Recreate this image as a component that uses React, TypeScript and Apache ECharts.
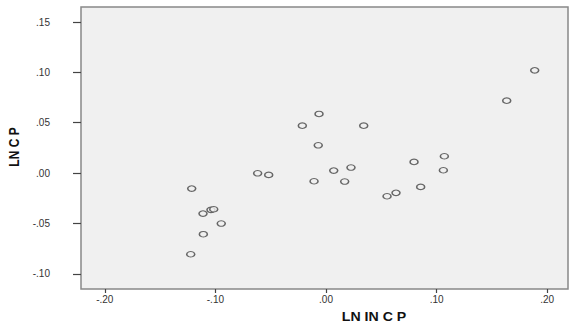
import React, { useEffect, useRef } from "react";
import * as echarts from "echarts";

const xValues = [
  -0.1214, -0.0618, -0.0518, -0.1112, -0.104, -0.1015, -0.0947, -0.1109, -0.1223,
  -0.0063, -0.0214, 0.0341, -0.007, 0.007, 0.0226, -0.0108, 0.0169, 0.0796,
  0.107, 0.1061, 0.0856, 0.0633, 0.0552, 0.1887, 0.1634,
];
const yValues = [
  -0.0154, -0.0002, -0.0018, -0.0402, -0.0365, -0.0359, -0.0501, -0.0607, -0.0806,
  0.0587, 0.0471, 0.0471, 0.0276, 0.0025, 0.0055, -0.0081, -0.0084, 0.0111,
  0.0167, 0.0028, -0.0137, -0.0196, -0.023, 0.102, 0.0719,
];
const xTicks = [-0.2, -0.1, 0, 0.1, 0.2];
const yTicks = [-0.1, -0.05, 0, 0.05, 0.1, 0.15];
const xTitle = "LN IN C P";
const yTitle = "LN C P";

const fmt = (v: number) => {
  const s = Math.abs(v).toFixed(2).replace(/^0/, "");
  return (v < -1e-9 ? "-" : "") + s;
};

const FONT = "'Liberation Sans', Arial, sans-serif";

export default function App() {
  const ref = useRef<HTMLDivElement>(null);
  useEffect(() => {
    if (!ref.current) return;
    const chart = echarts.init(ref.current, null, { renderer: "svg" });
    const data = xValues.map((x, i) => [x, yValues[i]]);
    chart.setOption({
      animation: false,
      backgroundColor: "#ffffff",
      grid: {
        left: 81,
        top: 7,
        right: 1,
        bottom: 36,
        show: true,
        backgroundColor: "#f0f0f0",
        borderColor: "#888888",
        borderWidth: 1.5,
      },
      xAxis: {
        type: "value",
        min: -0.2215,
        max: 0.2188,
        splitLine: { show: false },
        axisLine: { show: false, onZero: false },
        axisTick: {
          show: true,
          length: 4,
          customValues: xTicks,
          lineStyle: { color: "#444", width: 1.2 },
        },
        axisLabel: {
          customValues: xTicks,
          formatter: fmt,
          margin: 5,
          fontSize: 10,
          color: "#333",
          fontFamily: FONT,
        },
      },
      yAxis: {
        type: "value",
        min: -0.1151,
        max: 0.1649,
        splitLine: { show: false },
        axisLine: { show: false, onZero: false },
        axisTick: {
          show: true,
          length: 8,
          customValues: yTicks,
          lineStyle: { color: "#444", width: 1.2 },
        },
        axisLabel: {
          customValues: yTicks,
          formatter: fmt,
          margin: 31,
          fontSize: 10,
          color: "#333",
          fontFamily: FONT,
        },
      },
      graphic: [
        {
          type: "text",
          x: 374,
          y: 317,
          scaleX: 1.18,
          style: {
            text: xTitle,
            fontSize: 12,
            fontWeight: "bold",
            fontFamily: FONT,
            fill: "#111",
            align: "center",
            verticalAlign: "middle",
          },
        },
        {
          type: "text",
          x: 14,
          y: 147,
          rotation: Math.PI / 2,
          scaleY: 1.25,
          style: {
            text: yTitle,
            fontSize: 12,
            fontWeight: "bold",
            fontFamily: FONT,
            fill: "#111",
            align: "center",
            verticalAlign: "middle",
          },
        },
      ],
      series: [
        {
          type: "scatter",
          data,
          symbol: "circle",
          symbolSize: [8, 5.5],
          itemStyle: {
            color: "#f0f0f0",
            borderColor: "#444",
            borderWidth: 1.3,
          },
        },
      ],
    });
    return () => chart.dispose();
  }, []);
  return (
    <div
      ref={ref}
      style={{ position: "absolute", left: 0, top: 0, width: 569, height: 325 }}
    />
  );
}
